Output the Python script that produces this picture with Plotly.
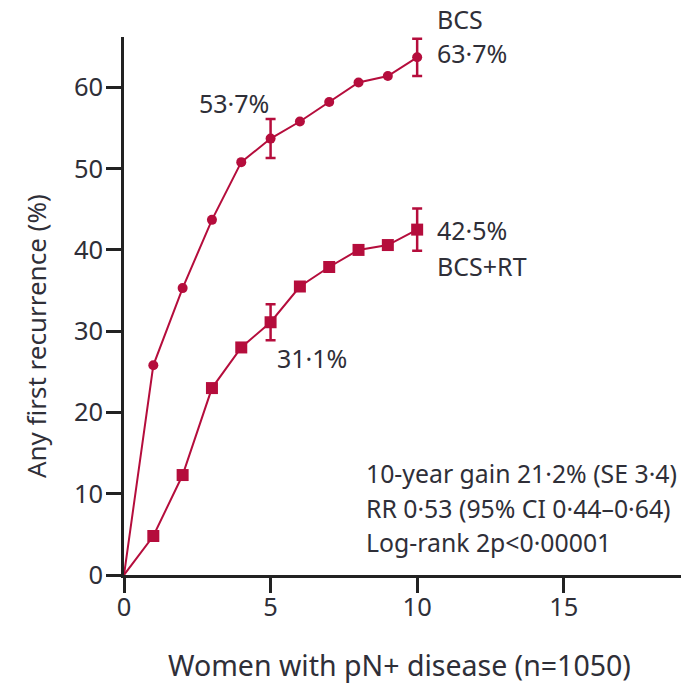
import plotly.graph_objects as go

# Follow-up years
years = [0, 1, 2, 3, 4, 5, 6, 7, 8, 9, 10]

# Cumulative risk of any first recurrence (%)
bcs = [0, 25.8, 35.3, 43.7, 50.8, 53.7, 55.8, 58.2, 60.6, 61.4, 63.7]
bcs_rt = [0, 4.8, 12.3, 23.0, 28.0, 31.1, 35.5, 37.9, 40.0, 40.6, 42.5]

# Standard errors shown at 5 and 10 years
err_years = [5, 10]
bcs_err = [2.4, 2.3]
bcs_rt_err = [2.2, 2.6]

x_ticks = [0, 5, 10, 15]
y_ticks = [0, 10, 20, 30, 40, 50, 60]

RED = "#B50D3C"
TEXT = "#2f2f38"
FONT = "Noto Sans"

fig = go.Figure()

for vals, sym, size in [(bcs, "circle", 10), (bcs_rt, "square", 12)]:
    fig.add_trace(go.Scatter(
        x=years, y=vals, mode="lines",
        line=dict(color=RED, width=2), showlegend=False, hoverinfo="skip",
    ))
    fig.add_trace(go.Scatter(
        x=years[1:], y=vals[1:], mode="markers",
        marker=dict(symbol=sym, size=size, color=RED, line=dict(width=0)),
        showlegend=False, cliponaxis=False,
    ))

for vals, errs in [(bcs, bcs_err), (bcs_rt, bcs_rt_err)]:
    fig.add_trace(go.Scatter(
        x=err_years, y=[vals[years.index(t)] for t in err_years], mode="markers",
        marker=dict(size=1, color=RED, opacity=0),
        error_y=dict(type="data", array=errs, visible=True, color=RED,
                     thickness=2.5, width=5),
        showlegend=False, cliponaxis=False,
    ))


def pct(v):
    return f"{v:.1f}%".replace(".", "·")


def note(x, y, text, size=25, xref="x", yref="y"):
    fig.add_annotation(x=x, y=y, xref=xref, yref=yref, text=text, showarrow=False,
                       xanchor="left", yanchor="middle",
                       font=dict(family=FONT, size=size, color=TEXT))


# Series labels with end-point values
note(10.6, 1.033, "BCS", xref="x", yref="paper")
note(10.6, 64.2, pct(bcs[10]))
note(2.5, 58.1, pct(bcs[5]))
note(10.6, 42.4, pct(bcs_rt[10]))
note(10.6, 38.0, "BCS+RT")
note(5.15, 26.75, pct(bcs_rt[5]))

# Summary statistics
note(8.2, 12.6, "10-year gain 21·2% (SE 3·4)", size=24.8)
note(8.2, 8.3, "RR 0·53 (95% CI 0·44–0·64)", size=24.8)
note(8.2, 4.0, "Log-rank 2p<0·00001", size=24.8)

# Axis titles
fig.add_annotation(x=0.4955, y=-0.167, xref="paper", yref="paper",
                   text="Women with pN+ disease (n=1050)", showarrow=False,
                   xanchor="center", yanchor="middle",
                   font=dict(family=FONT, size=28.5, color=TEXT))
fig.add_annotation(x=-0.158, y=0.444, xref="paper", yref="paper",
                   text="Any first recurrence (%)", showarrow=False, textangle=-90,
                   xanchor="center", yanchor="middle",
                   font=dict(family=FONT, size=26, color=TEXT))

axis_common = dict(
    showline=True, linecolor="#222", linewidth=2.5,
    ticks="outside", ticklen=15, tickwidth=2.5, tickcolor="#222",
    showgrid=False, zeroline=False,
    tickfont=dict(family=FONT, size=25.5, color=TEXT),
)

fig.update_layout(
    width=687, height=688,
    margin=dict(l=124, r=6, t=37, b=113),
    paper_bgcolor="white", plot_bgcolor="white",
    xaxis=dict(range=[0, 19], tickvals=x_ticks, ticklabelstandoff=-7, **axis_common),
    yaxis=dict(range=[0, 66.2], tickvals=y_ticks, ticklabelstandoff=-2, **axis_common),
)

fig.write_html("out.html")
